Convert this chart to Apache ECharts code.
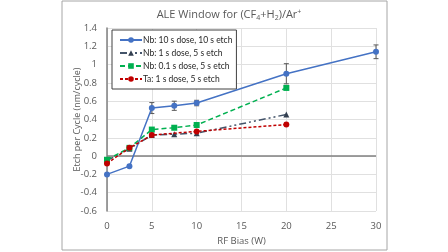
<!DOCTYPE html>
<html>
<head>
<meta charset="utf-8">
<script src="https://cdn.jsdelivr.net/npm/echarts@6/dist/echarts.min.js"></script>
<style>
  html, body { margin: 0; padding: 0; background: #fff; }
  #chart { width: 448px; height: 252px; }
</style>
</head>
<body>
<div id="chart"></div>
<script>
// RF bias (W) values for each series
var biasNb10 = [0, 2.5, 5, 7.5, 10, 20, 30];
var etchNb10 = [-0.2, -0.11, 0.525, 0.55, 0.58, 0.9, 1.14];
var errNb10 = [0, 0, 0.06, 0.05, 0.03, 0.11, 0.075];

var biasNb1 = [0, 2.5, 5, 7.5, 10, 20];
var etchNb1 = [-0.05, 0.08, 0.23, 0.24, 0.25, 0.455];

var biasNb01 = [0, 2.5, 5, 7.5, 10, 20];
var etchNb01 = [-0.04, 0.09, 0.29, 0.31, 0.34, 0.745];

var biasTa = [0, 2.5, 5, 10, 20];
var etchTa = [-0.08, 0.09, 0.23, 0.27, 0.345];

var names = [
  "Nb: 10 s dose, 10 s etch",
  "Nb: 1 s dose, 5 s etch",
  "Nb: 0.1 s dose, 5 s etch",
  "Ta: 1 s dose, 5 s etch"
];

var font = "Open Sans";
var textColor = "#595959";

function pairs(xs, ys) {
  return xs.map(function (x, i) { return [x, ys[i]]; });
}

var errData = biasNb10
  .map(function (x, i) { return [x, etchNb10[i] - errNb10[i], etchNb10[i] + errNb10[i]]; })
  .filter(function (d) { return d[2] > d[1]; });

var chart = echarts.init(document.getElementById("chart"));
var option = {
  animation: false,
  textStyle: { fontFamily: font },
  graphic: [
    {
      type: "rect",
      shape: { x: 62, y: 1, width: 325, height: 249 },
      style: { fill: "none", stroke: "#a6a6a6", lineWidth: 1 },
      silent: true,
      z: -1
    }
  ],
  title: {
    text: "ALE Window for (CF{sub|4}+H{sub|2})/Ar{sup|+}",
    left: 224,
    textAlign: "center",
    top: 3,
    textStyle: {
      fontFamily: font,
      fontSize: 11,
      fontWeight: "normal",
      color: textColor,
      rich: {
        sub: { fontSize: 7, color: textColor, fontFamily: font, verticalAlign: "bottom", padding: [6, 0, 0, 0] },
        sup: { fontSize: 7, color: textColor, fontFamily: font, verticalAlign: "top", padding: [0, 0, 6, 0] }
      }
    }
  },
  legend: {
    orient: "vertical",
    left: 112,
    top: 30,
    data: names,
    backgroundColor: "#fff",
    borderColor: "#404040",
    borderWidth: 1,
    padding: [4, 4, 4, 7],
    itemGap: 1,
    itemWidth: 22,
    itemHeight: 7,
    textStyle: { fontFamily: "Lato", fontSize: 8.5, color: "#262626", lineHeight: 12, padding: [0, 0, 0, -4] }
  },
  grid: { left: 107, right: 72, top: 28, bottom: 41 },
  xAxis: {
    type: "value",
    min: 0,
    max: 30,
    interval: 5,
    name: "RF Bias (W)",
    nameLocation: "middle",
    nameGap: 22,
    nameTextStyle: { fontFamily: font, fontSize: 9.5, color: textColor },
    axisLine: { show: false },
    axisTick: { show: false },
    axisLabel: { fontFamily: font, fontSize: 9.5, color: textColor, margin: 10 },
    splitLine: { lineStyle: { color: "#e0e0e0", width: 1 } }
  },
  yAxis: {
    type: "value",
    min: -0.6,
    max: 1.4,
    interval: 0.2,
    name: "Etch per Cycle (nm/cycle)",
    nameLocation: "middle",
    nameGap: 25,
    nameMoveOverlap: false,
    nameTextStyle: { fontFamily: font, fontSize: 9, color: textColor },
    axisLine: { show: true, onZero: false, lineStyle: { color: "#808080", width: 1.5 } },
    axisTick: { show: false },
    axisLabel: {
      fontFamily: font,
      fontSize: 9.5,
      color: textColor,
      margin: 10,
      formatter: function (v) { return String(Math.round(v * 10) / 10); }
    },
    splitLine: { lineStyle: { color: "#e0e0e0", width: 1 } }
  },
  series: [
    {
      name: "zero",
      type: "line",
      data: [[0, 0], [30, 0]],
      symbol: "none",
      lineStyle: { color: "#808080", width: 1.5 },
      silent: true,
      z: 1
    },
    {
      name: names[0],
      type: "line",
      data: pairs(biasNb10, etchNb10),
      symbol: "circle",
      symbolSize: 6,
      itemStyle: { color: "#4472C4" },
      lineStyle: { color: "#4472C4", width: 1.5 },
      z: 5
    },
    {
      name: names[1],
      type: "line",
      data: pairs(biasNb1, etchNb1),
      symbol: "triangle",
      symbolSize: 6,
      itemStyle: { color: "#333F50" },
      lineStyle: { color: "#44546A", width: 1.5, type: [7, 3, 2, 3, 2, 3] },
      z: 4
    },
    {
      name: names[2],
      type: "line",
      data: pairs(biasNb01, etchNb01),
      symbol: "rect",
      symbolSize: 6,
      itemStyle: { color: "#00B050" },
      lineStyle: { color: "#00B050", width: 1.5, type: [5, 3] },
      z: 4
    },
    {
      name: names[3],
      type: "line",
      data: pairs(biasTa, etchTa),
      symbol: "circle",
      symbolSize: 6,
      itemStyle: { color: "#C00000" },
      lineStyle: { color: "#C00000", width: 1.5, type: [3, 2] },
      z: 6
    },
    {
      name: "err",
      type: "custom",
      silent: true,
      z: 3,
      data: errData,
      renderItem: function (params, api) {
        var lo = api.coord([api.value(0), api.value(1)]);
        var hi = api.coord([api.value(0), api.value(2)]);
        var w = 2.5;
        var st = { stroke: "#595959", lineWidth: 1 };
        return {
          type: "group",
          children: [
            { type: "line", shape: { x1: lo[0], y1: lo[1], x2: hi[0], y2: hi[1] }, style: st },
            { type: "line", shape: { x1: lo[0] - w, y1: lo[1], x2: lo[0] + w, y2: lo[1] }, style: st },
            { type: "line", shape: { x1: hi[0] - w, y1: hi[1], x2: hi[0] + w, y2: hi[1] }, style: st }
          ]
        };
      }
    }
  ]
};
chart.setOption(option);
</script>
</body>
</html>
